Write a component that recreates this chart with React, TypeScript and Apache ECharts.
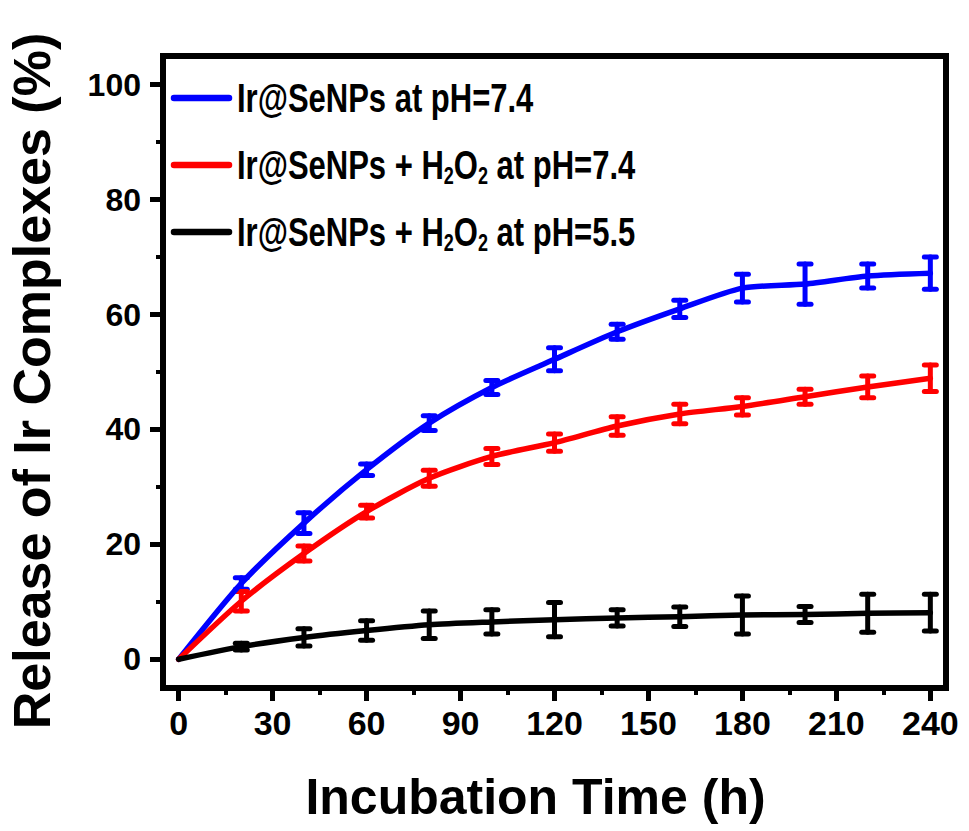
import React, { useEffect, useRef } from "react";
import * as echarts from "echarts";

const times = [0, 20, 40, 60, 80, 100, 120, 140, 160, 180, 200, 220, 240];
const seriesNames = [
  "Ir@SeNPs at pH=7.4",
  "Ir@SeNPs + H2O2 at pH=7.4",
  "Ir@SeNPs + H2O2 at pH=5.5",
];
const blueVals = [0, 13.2, 23.7, 33.0, 41.1, 47.3, 52.2, 57.0, 61.0, 64.6, 65.3, 66.7, 67.2];
const blueErr = [0, 1.0, 1.8, 1.0, 1.3, 1.2, 2.0, 1.3, 1.5, 2.4, 3.5, 2.1, 2.8];
const redVals = [0, 10.1, 18.4, 25.7, 31.5, 35.3, 37.7, 40.6, 42.7, 44.0, 45.7, 47.4, 48.9];
const redErr = [0, 1.7, 1.3, 1.1, 1.4, 1.4, 1.5, 1.6, 1.7, 1.5, 1.3, 1.9, 2.3];
const blackVals = [0, 2.2, 3.8, 5.0, 6.0, 6.5, 6.9, 7.2, 7.4, 7.7, 7.8, 8.0, 8.1];
const blackErr = [0, 0.6, 1.5, 1.7, 2.4, 2.1, 3.0, 1.4, 1.7, 3.3, 1.4, 3.3, 3.2];
const colors = ["#0000FF", "#FF0000", "#000000"];

const xMajorTicks = [0, 30, 60, 90, 120, 150, 180, 210, 240];
const xMinorTicks = [15, 45, 75, 105, 135, 165, 195, 225];
const yMajorTicks = [0, 20, 40, 60, 80, 100];
const yMinorTicks = [10, 30, 50, 70, 90];

const FONT = "'Liberation Sans', Arial, sans-serif";

export default function App() {
  const ref = useRef<HTMLDivElement>(null);
  useEffect(() => {
    const chart = echarts.init(ref.current!, null, { renderer: "svg" });
    const allVals = [blueVals, redVals, blackVals];
    const allErr = [blueErr, redErr, blackErr];

    const series: any[] = [];
    seriesNames.forEach((name, k) => {
      series.push({
        type: "line",
        name,
        data: times.map((t, i) => [t, allVals[k][i]]),
        symbol: "none",
        smooth: 0.25,
        lineStyle: { color: colors[k], width: 5.5, cap: "round", join: "round" },
        itemStyle: { color: colors[k] },
        xAxisIndex: 0,
        yAxisIndex: 0,
      });
      series.push({
        type: "custom",
        name: "err" + k,
        xAxisIndex: 0,
        yAxisIndex: 0,
        data: times.map((t, i) => [t, allVals[k][i], allErr[k][i]]),
        encode: { x: 0, y: 1 },
        renderItem: (params: any, api: any) => {
          const x = api.value(0);
          const y = api.value(1);
          const e = api.value(2);
          if (!e) return null;
          const top = api.coord([x, y + e]);
          const bot = api.coord([x, y - e]);
          const hw = 6;
          const style = { stroke: colors[k], lineWidth: 5, lineCap: "round" };
          return {
            type: "group",
            children: [
              { type: "line", shape: { x1: top[0], y1: top[1], x2: bot[0], y2: bot[1] }, style },
              { type: "line", shape: { x1: top[0] - hw, y1: top[1], x2: top[0] + hw, y2: top[1] }, style },
              { type: "line", shape: { x1: bot[0] - hw, y1: bot[1], x2: bot[0] + hw, y2: bot[1] }, style },
            ],
          };
        },
      });
    });

    // legend drawn as graphic (text stretched vertically as in the reference)
    const legendY = [98, 165, 232];
    const legendGraphic: any[] = [];
    seriesNames.forEach((name, k) => {
      legendGraphic.push({
        type: "line",
        shape: { x1: 174, y1: legendY[k], x2: 229, y2: legendY[k] },
        style: { stroke: colors[k], lineWidth: 6.5, lineCap: "round" },
        z: 10,
      });
      legendGraphic.push({
        type: "text",
        x: 237,
        y: legendY[k],
        scaleY: 1.3,
        z: 10,
        style: {
          text: name.replace("H2O2", "H{sub|2}O{sub|2}"),
          fontFamily: FONT,
          fontWeight: "bold",
          fontSize: 31,
          lineHeight: 34,
          fill: "#000",
          align: "left",
          verticalAlign: "middle",
          rich: {
            sub: {
              fontFamily: FONT,
              fontWeight: "bold",
              fontSize: 18,
              lineHeight: 12,
              verticalAlign: "bottom",
              fill: "#000",
            },
          },
        },
      });
    });

    chart.setOption({
      animation: false,
      backgroundColor: "#fff",
      grid: {
        left: 163,
        right: 23,
        top: 56,
        bottom: 143,
        show: true,
        borderColor: "#000",
        borderWidth: 6,
        containLabel: false,
        outerBoundsMode: "none",
      },
      graphic: legendGraphic,
      xAxis: [
        {
          type: "value",
          min: -5,
          max: 245,
          name: "Incubation Time (h)",
          nameLocation: "middle",
          nameGap: 84,
          nameTextStyle: { fontFamily: FONT, fontWeight: "bold", fontSize: 50, color: "#000", padding: [0, 38, 0, 0] },
          axisLine: { show: true, onZero: false, lineStyle: { color: "#000", width: 6 } },
          axisTick: { show: true, length: 13, lineStyle: { color: "#000", width: 5 }, customValues: xMajorTicks },
          axisLabel: { fontFamily: FONT, fontWeight: "bold", fontSize: 34, color: "#000", margin: 18, customValues: xMajorTicks },
          splitLine: { show: false },
        },
        {
          type: "value",
          min: -5,
          max: 245,
          position: "bottom",
          axisLine: { show: false, onZero: false },
          axisTick: { show: true, length: 7, lineStyle: { color: "#000", width: 4 }, customValues: xMinorTicks },
          axisLabel: { show: false },
          splitLine: { show: false },
        },
      ],
      yAxis: [
        {
          type: "value",
          min: -5,
          max: 105,
          name: "Release of Ir Complexes (%)",
          nameLocation: "middle",
          nameGap: 105,
          nameTextStyle: { fontFamily: FONT, fontWeight: "bold", fontSize: 52, color: "#000", padding: [0, 18, 0, 0] },
          axisLine: { show: true, onZero: false, lineStyle: { color: "#000", width: 6 } },
          axisTick: { show: true, length: 13, lineStyle: { color: "#000", width: 5 }, customValues: yMajorTicks },
          axisLabel: { fontFamily: FONT, fontWeight: "bold", fontSize: 32, color: "#000", margin: 22, customValues: yMajorTicks },
          splitLine: { show: false },
        },
        {
          type: "value",
          min: -5,
          max: 105,
          position: "left",
          axisLine: { show: false, onZero: false },
          axisTick: { show: true, length: 7, lineStyle: { color: "#000", width: 4 }, customValues: yMinorTicks },
          axisLabel: { show: false },
          splitLine: { show: false },
        },
      ],
      series,
    });
    return () => chart.dispose();
  }, []);
  return (
    <div
      ref={ref}
      style={{ position: "fixed", left: 0, top: 0, width: 969, height: 831, background: "#fff" }}
    />
  );
}
